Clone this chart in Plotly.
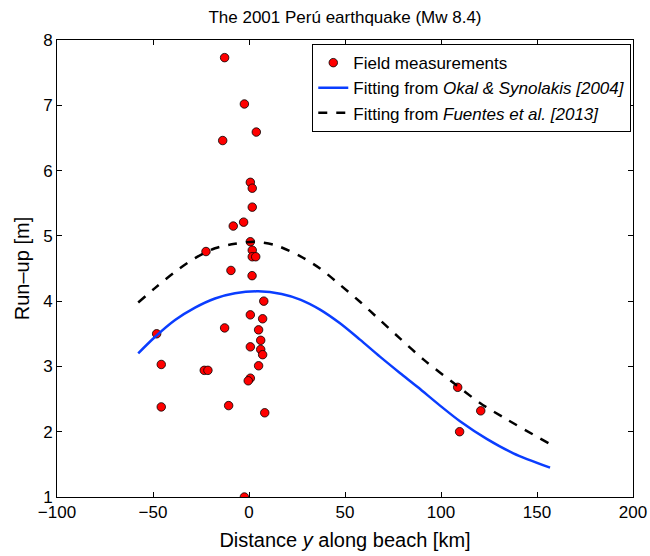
import plotly.graph_objects as go

# Field measurements (distance along beach [km], run-up [m])
meas_x = [-12.7, -2.4, 3.8, -13.7, 0.7, 1.7, 1.7, -2.8, -8.2, 0.7, -22.4, 1.7, 1.7, 3.5,
          -9.4, 1.6, 7.7, 0.7, 7.1, -48.1, -12.7, 5.0, 6.1, 0.7, 6.1, 7.1, -45.7, 5.0,
          -23.3, -21.4, 0.7, -0.4, -45.7, -10.6, 8.2, -2.4, 108.7, 120.7, 109.7]
meas_y = [7.73, 7.02, 6.59, 6.46, 5.82, 5.73, 5.44, 5.21, 5.15, 4.91, 4.76, 4.78, 4.68, 4.68,
          4.47, 4.39, 4.00, 3.79, 3.73, 3.50, 3.59, 3.56, 3.40, 3.30, 3.26, 3.18, 3.03, 3.01,
          2.94, 2.94, 2.82, 2.78, 2.38, 2.40, 2.29, 1.00, 2.68, 2.32, 2.00]

# Okal & Synolakis [2004] fit
okal_x = [-57.7, -49.0, -38.5, -28.1, -17.7, -7.3, 4.8, 17.0, 27.0, 37.0, 47.4, 57.8, 68.2,
          78.6, 88.0, 99.5, 109.9, 123.8, 137.7, 156.8]
okal_y = [3.20, 3.45, 3.71, 3.90, 4.04, 4.12, 4.15, 4.11, 4.02, 3.87, 3.66, 3.41, 3.15,
          2.90, 2.68, 2.40, 2.16, 1.89, 1.67, 1.45]

# Fuentes et al. [2013] fit
fuen_x = [-57.7, -49.0, -38.5, -28.1, -17.7, -7.3, 3.1, 13.5, 26.6, 37.0, 47.4, 57.8, 68.2,
          78.6, 91.1, 106.4, 120.3, 134.2, 156.8]
fuen_y = [3.98, 4.20, 4.45, 4.66, 4.81, 4.88, 4.91, 4.86, 4.69, 4.50, 4.25, 3.99, 3.71,
          3.43, 3.10, 2.75, 2.44, 2.19, 1.81]

fig = go.Figure()
fig.add_trace(go.Scatter(
    x=meas_x, y=meas_y, mode="markers", name="Field measurements",
    marker=dict(color="#ff0000", size=8.5, line=dict(color="black", width=0.8)),
))
fig.add_trace(go.Scatter(
    x=okal_x, y=okal_y, mode="lines", name="Fitting from <i>Okal & Synolakis [2004]</i>",
    line=dict(color="#0a3dff", width=2.5, shape="spline", smoothing=0.8),
))
fig.add_trace(go.Scatter(
    x=fuen_x, y=fuen_y, mode="lines", name="Fitting from <i>Fuentes et al. [2013]</i>",
    line=dict(color="black", width=2.5, dash="dash", shape="spline", smoothing=0.8),
))

font_family = "Liberation Sans, Arial, Helvetica, sans-serif"
axis_common = dict(
    showgrid=False, zeroline=False, showline=True, linecolor="black", linewidth=1,
    mirror="ticks", ticks="inside", ticklen=5, tickcolor="black", automargin=False,
    tickfont=dict(size=17, color="black", family=font_family),
)

fig.update_layout(
    width=650, height=556,
    margin=dict(l=57, r=17, t=40, b=59),
    paper_bgcolor="white", plot_bgcolor="white",
    font=dict(family=font_family, color="black"),
    title=dict(text="The 2001 Perú earthquake (Mw 8.4)", x=(57 + 288) / 650, xanchor="center",
               y=1 - 17 / 556, yanchor="middle", font=dict(size=17, color="black")),
    xaxis=dict(range=[-100, 200], tickvals=[-100, -50, 0, 50, 100, 150, 200],
               title=dict(text="Distance <i>y</i> along beach [km]", font=dict(size=20), standoff=11),
               **axis_common),
    yaxis=dict(range=[1, 8], tickvals=[1, 2, 3, 4, 5, 6, 7, 8],
               title=dict(text="Run–up [m]", font=dict(size=20), standoff=8),
               **axis_common),
    legend=dict(x=0.997, y=0.991, xanchor="right", yanchor="top",
                bgcolor="white", bordercolor="black", borderwidth=1,
                font=dict(size=17, color="black"), tracegroupgap=0, itemwidth=30),
    showlegend=True,
)

fig.write_html("out.html")
